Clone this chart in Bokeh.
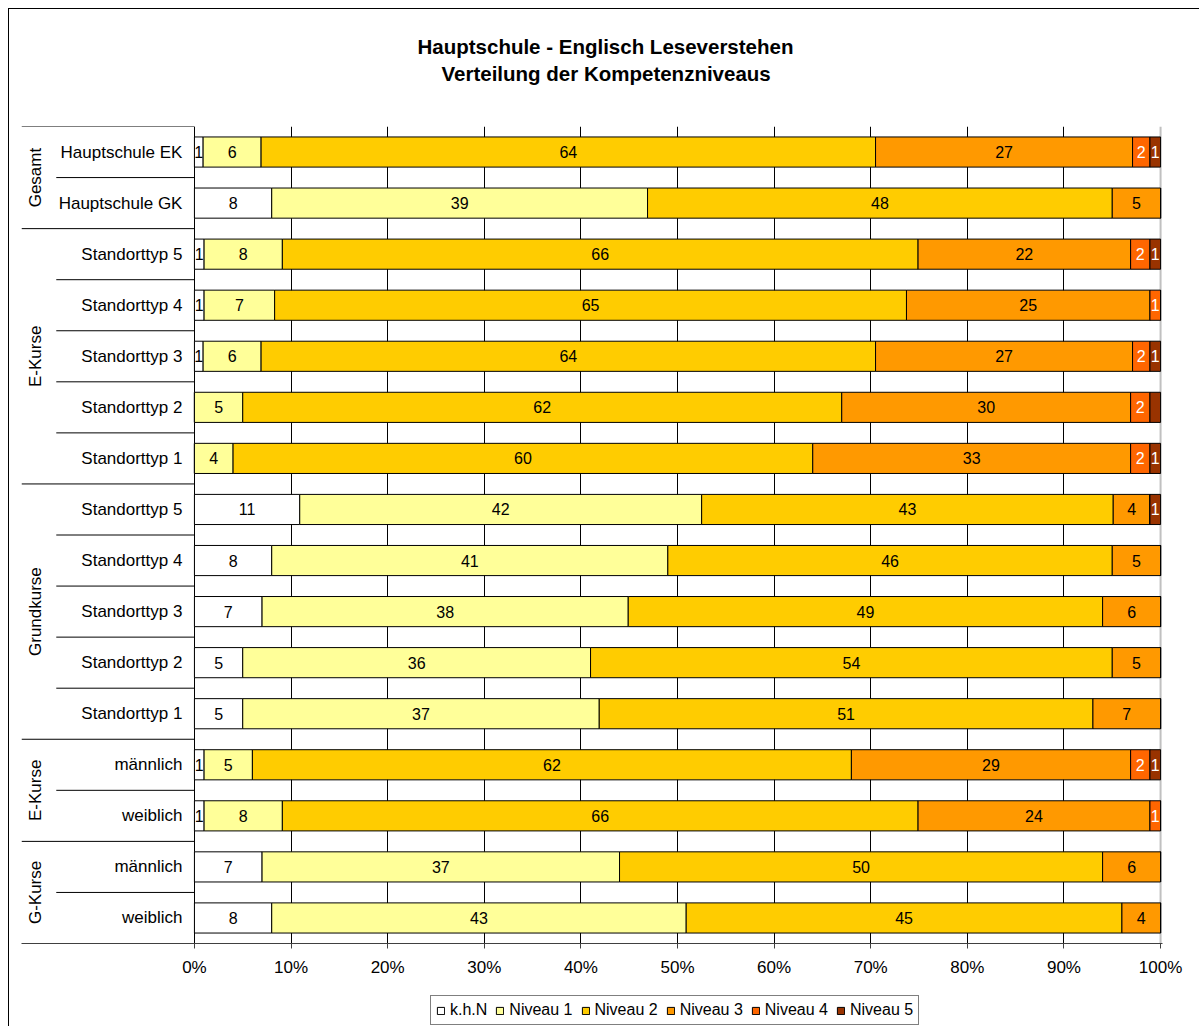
import numpy as np
from bokeh.plotting import figure
from bokeh.layouts import column
from bokeh.models import ColumnDataSource, FixedTicker, PrintfTickFormatter, Span, Title
from bokeh.core.properties import value
from bokeh.embed import file_html
from bokeh.resources import INLINE

FONT = "Liberation Sans"

# ---------------- data ----------------
title_lines = ["Hauptschule - Englisch Leseverstehen", "Verteilung der Kompetenzniveaus"]

categories = ["Hauptschule EK", "Hauptschule GK",
              "Standorttyp 5", "Standorttyp 4", "Standorttyp 3", "Standorttyp 2", "Standorttyp 1",
              "Standorttyp 5", "Standorttyp 4", "Standorttyp 3", "Standorttyp 2", "Standorttyp 1",
              "männlich", "weiblich", "männlich", "weiblich"]
group_names = ["Gesamt", "E-Kurse", "Grundkurse", "E-Kurse", "G-Kurse"]
group_sizes = [2, 5, 5, 2, 2]

series = ["k.h.N", "Niveau 1", "Niveau 2", "Niveau 3", "Niveau 4", "Niveau 5"]
khn = [0.9, 8.0, 1.0, 1.0, 0.9, 0.0, 0.0, 10.9, 8.0, 7.0, 5.0, 5.0, 1.0, 1.0, 7.0, 8.0]
niveau1 = [6.0, 38.9, 8.1, 7.3, 6.0, 5.0, 4.0, 41.6, 41.0, 37.9, 36.0, 36.9, 5.0, 8.1, 37.0, 42.9]
niveau2 = [63.6, 48.1, 65.8, 65.4, 63.6, 62.0, 60.0, 42.6, 46.0, 49.1, 54.0, 51.1, 62.0, 65.8, 50.0, 45.1]
niveau3 = [26.6, 5.0, 22.0, 25.2, 26.6, 29.9, 32.9, 3.8, 5.0, 6.0, 5.0, 7.0, 28.9, 24.0, 6.0, 4.0]
niveau4 = [1.8, 0.0, 2.0, 1.1, 1.8, 2.0, 2.0, 0.0, 0.0, 0.0, 0.0, 0.0, 2.0, 1.1, 0.0, 0.0]
niveau5 = [1.1, 0.0, 1.1, 0.0, 1.1, 1.1, 1.1, 1.1, 0.0, 0.0, 0.0, 0.0, 1.1, 0.0, 0.0, 0.0]
hidden_labels = [(5, "Niveau 5")]  # segment shown without a value label

x_ticks = [0, 10, 20, 30, 40, 50, 60, 70, 80, 90, 100]

# ---------------- styling ----------------
colors = ["#FFFFFF", "#FFFF99", "#FFCC00", "#FF9900", "#FF6600", "#993300"]
label_colors = ["black", "black", "black", "black", "white", "white"]

values = [khn, niveau1, niveau2, niveau3, niveau4, niveau5]
n = len(categories)
ys = np.arange(n) + 0.5

LABEL_AREA = 17.9   # width of the category label area, in % units left of 0%
INNER_SEP = 14.3
BAR_H = 0.59

p = figure(width=1190, height=980,
           x_range=(-LABEL_AREA, 100.2), y_range=(n, 0),
           output_backend="svg", toolbar_location=None,
           y_axis_location=None,
           min_border_left=12, min_border_right=37,
           min_border_top=117, min_border_bottom=46)
p.outline_line_color = None
p.background_fill_color = "white"
p.border_fill_color = "white"

# grid
p.ygrid.visible = False
p.xgrid.ticker = FixedTicker(ticks=x_ticks[:-1])
p.xgrid.grid_line_color = "black"
p.xgrid.grid_line_width = 1
p.add_layout(Span(location=x_ticks[-1], dimension="height", line_color="#C0C0C0",
                  line_width=2, level="underlay"))

# x axis
ax = p.xaxis[0]
ax.ticker = FixedTicker(ticks=x_ticks)
ax.formatter = PrintfTickFormatter(format="%d%%")
ax.major_tick_in = 0
ax.major_tick_out = 5
ax.minor_tick_line_color = None
ax.major_label_standoff = 9
ax.major_label_text_font = FONT
ax.major_label_text_font_size = "17px"
ax.major_label_text_color = "black"
ax.axis_line_color = "#404040"
ax.major_tick_line_color = "#404040"

# stacked bars
data = {"y": ys}
for s, v in zip(series, values):
    data[s] = v
source = ColumnDataSource(data)
p.hbar_stack(series, y="y", height=BAR_H, fill_color=colors, line_color="black",
             line_width=1, source=source)

# bar value labels
lx, ly, lt, lc = [], [], [], []
arr = np.array(values)
cum = np.cumsum(arr, axis=0)
for si, s in enumerate(series):
    for ri in range(n):
        v = arr[si, ri]
        if v <= 0 or (ri, s) in hidden_labels:
            continue
        lx.append(cum[si, ri] - v / 2)
        ly.append(ys[ri])
        lt.append(str(int(round(v))))
        lc.append(label_colors[si])
p.text(x="x", y="y", text="t", text_color="c",
       source=ColumnDataSource(dict(x=lx, y=ly, t=lt, c=lc)),
       text_align="center", text_baseline="middle",
       text_font=value(FONT), text_font_size="16px")

# category labels
p.text(x="x", y="y", text="t", source=ColumnDataSource(dict(x=[0] * n, y=ys, t=categories)),
       x_offset=-12, text_align="right", text_baseline="middle",
       text_font=value(FONT), text_font_size="17px", text_color="black")

# group labels and separators
bounds = np.concatenate([[0], np.cumsum(group_sizes)])
centers = (bounds[:-1] + bounds[1:]) / 2
p.text(x="x", y="y", text="t",
       source=ColumnDataSource(dict(x=[-LABEL_AREA + 1.45] * len(group_names), y=centers, t=group_names)),
       angle=np.pi / 2, text_align="center", text_baseline="middle",
       text_font=value(FONT), text_font_size="17px", text_color="black")

group_b = [b for b in bounds[:-1]]
inner_b = [b for b in range(1, n) if b not in bounds]
p.segment(x0=[-LABEL_AREA] * len(group_b), x1=[0] * len(group_b), y0=group_b, y1=group_b,
          line_color="black", line_width=1)
p.segment(x0=[-INNER_SEP] * len(inner_b), x1=[0] * len(inner_b), y0=inner_b, y1=inner_b,
          line_color="black", line_width=1)

# title: spacer + two lines (first added sits closest to the plot)
p.add_layout(Title(text=" ", text_font_size="1px", standoff=39), "above")
p.add_layout(Title(text=title_lines[1], align="left", offset=420, standoff=0,
                   text_font=FONT, text_font_size="20.5px", text_font_style="bold",
                   text_color="black"), "above")
p.add_layout(Title(text=title_lines[0], align="left", offset=396, standoff=3,
                   text_font=FONT, text_font_size="20.5px", text_font_style="bold",
                   text_color="black"), "above")

# legend strip below the chart (swatch renderers sit outside the visible range)
lf = figure(width=1190, height=37, x_range=(0, 1), y_range=(0, 1),
            output_backend="svg", toolbar_location=None,
            x_axis_location=None, y_axis_location=None,
            min_border_left=0, min_border_right=0, min_border_top=0, min_border_bottom=0)
lf.outline_line_color = None
lf.xgrid.visible = False
lf.ygrid.visible = False
lf.background_fill_color = "white"
lf.border_fill_color = "white"
for s, c in zip(series, colors):
    lf.hbar(y=[-5], left=[0], right=[1], height=1, fill_color=c, line_color="black",
            legend_label=s)
lg = lf.legend[0]
lg.orientation = "horizontal"
lg.location = (409, 1)
lg.border_line_color = "black"
lg.border_line_width = 1
lg.background_fill_color = "white"
lg.background_fill_alpha = 1
lg.glyph_width = 9
lg.glyph_height = 9
lg.label_standoff = 5
lg.spacing = 8
lg.padding = 5
lg.margin = 0
lg.label_text_font = FONT
lg.label_text_font_size = "16px"
lg.label_text_color = "black"
lg.label_height = 17

layout = column(p, lf, spacing=0)
layout.styles = {"margin-left": "8px", "margin-top": "8px",
                 "border-left": "1px solid black", "border-top": "1px solid black"}

open("out.html", "w").write(file_html(layout, INLINE))
